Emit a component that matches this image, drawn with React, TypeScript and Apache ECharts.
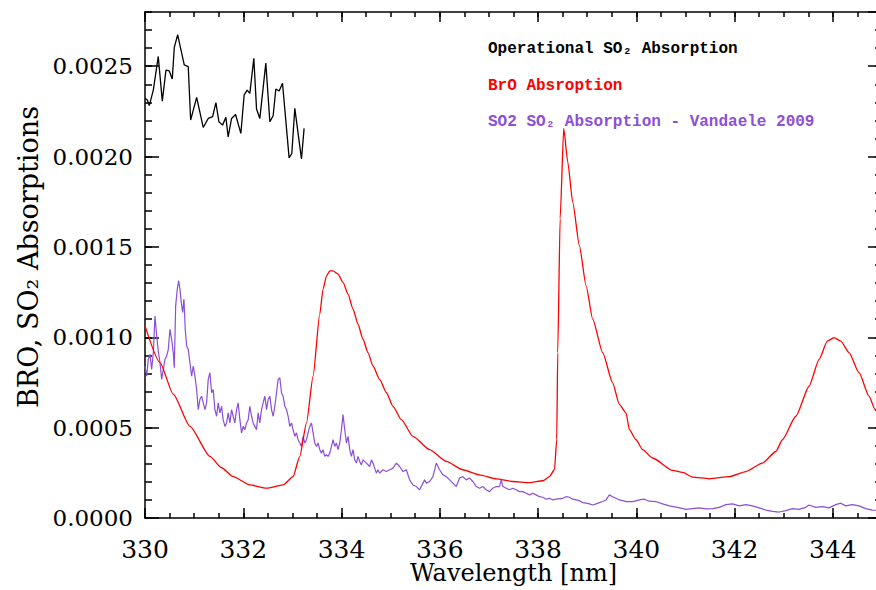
import React, { useEffect, useRef } from "react";
import * as echarts from "echarts";

// Axis ranges / ticks
const X_MIN = 330;
const X_MAX = 345;
const X_MAJOR = 2;
const X_MINOR = 0.5;
const Y_MIN = 0;
const Y_MAX = 0.0028;
const Y_MAJOR = 0.0005;
const Y_MINOR = 0.0001;

const legendLabels = [
  "Operational SO₂ Absorption",
  "BrO Absroption",
  "SO2 SO₂ Absorption - Vandaele 2009",
];
const xTitle = "Wavelength [nm]";
const yTitle = "BRO, SO₂ Absorptions";

// Operational SO2 absorption (black)
const operationalSO2: [number, number][] = [
  [330.0, 0.002322], [330.047, 0.002313], [330.087, 0.002282], [330.169, 0.002368],
  [330.27, 0.002554], [330.352, 0.002307], [330.427, 0.002479], [330.494, 0.002474],
  [330.555, 0.002429], [330.596, 0.002604], [330.665, 0.002674], [330.799, 0.002507],
  [330.88, 0.002498], [330.929, 0.002202], [331.051, 0.002328], [331.185, 0.002161],
  [331.287, 0.002211], [331.376, 0.002221], [331.443, 0.002298], [331.504, 0.002193],
  [331.579, 0.002174], [331.646, 0.002217], [331.693, 0.002109], [331.762, 0.002211],
  [331.843, 0.002233], [331.951, 0.002128], [332.018, 0.002341], [332.079, 0.002368],
  [332.134, 0.00235], [332.215, 0.002544], [332.27, 0.002263], [332.337, 0.002211],
  [332.459, 0.002517], [332.541, 0.002193], [332.608, 0.002226], [332.663, 0.002374],
  [332.73, 0.002363], [332.799, 0.002406], [332.933, 0.001993], [332.988, 0.002017],
  [333.049, 0.002267], [333.185, 0.001987], [333.238, 0.002156],
];

// BrO absorption (red)
const broAbsorption: [number, number][] = [
  [330.0, 0.001063], [330.305, 0.00086], [330.575, 0.000685], [330.915, 0.000507],
  [331.321, 0.000341], [331.558, 0.000278], [331.795, 0.000229], [332.134, 0.000183],
  [332.474, 0.000165], [332.811, 0.000183], [333.014, 0.000229], [333.15, 0.000341],
  [333.287, 0.000526], [333.421, 0.000785], [333.557, 0.001128], [333.624, 0.001267],
  [333.693, 0.001339], [333.76, 0.001367], [333.827, 0.001368], [333.929, 0.00135],
  [334.03, 0.001304], [334.132, 0.001239], [334.234, 0.001156], [334.335, 0.001072],
  [334.437, 0.000989], [334.539, 0.000915], [334.64, 0.000841], [334.776, 0.000767],
  [334.913, 0.000693], [335.047, 0.000618], [335.217, 0.000544], [335.453, 0.000452],
  [335.793, 0.000378], [336.132, 0.000313], [336.469, 0.000267], [336.809, 0.000239],
  [337.148, 0.000217], [337.486, 0.000202], [337.825, 0.000196], [338.096, 0.000206],
  [338.232, 0.000229], [338.333, 0.000267], [338.38, 0.000433], [338.4, 0.000915],
  [338.449, 0.001656], [338.522, 0.002156], [338.604, 0.001971], [338.705, 0.001748],
  [338.841, 0.001507], [338.978, 0.001285], [339.112, 0.0011], [339.315, 0.000915],
  [339.518, 0.000748], [339.654, 0.000629], [339.79, 0.000582], [339.858, 0.000489],
  [339.994, 0.000433], [340.128, 0.000378], [340.331, 0.000332], [340.738, 0.000263],
  [340.941, 0.000252], [341.144, 0.000226], [341.484, 0.000217], [341.89, 0.000229],
  [342.23, 0.000257], [342.567, 0.000304], [342.84, 0.000368], [342.973, 0.000433],
  [343.246, 0.000563], [343.516, 0.000729], [343.72, 0.000878], [343.888, 0.000979],
  [344.024, 0.000998], [344.161, 0.000979], [344.329, 0.000915], [344.533, 0.000804],
  [344.736, 0.000674], [344.858, 0.0006], [345.0, 0.000517],
];

// SO2 absorption - Vandaele 2009 (purple)
const vandaeleSO2: [number, number][] = [
  [330.0, 0.000841], [330.035, 0.000785], [330.067, 0.000878], [330.102, 0.000906],
  [330.136, 0.000822], [330.169, 0.000915], [330.203, 0.001118], [330.238, 0.001007],
  [330.27, 0.000924], [330.305, 0.000859], [330.339, 0.000767], [330.372, 0.000822],
  [330.407, 0.000878], [330.441, 0.000896], [330.474, 0.000933], [330.508, 0.001044],
  [330.543, 0.000989], [330.575, 0.000915], [330.596, 0.000832], [330.624, 0.001174],
  [330.657, 0.001267], [330.685, 0.001313], [330.711, 0.001267], [330.738, 0.001193],
  [330.766, 0.001137], [330.793, 0.001211], [330.819, 0.001044], [330.848, 0.000952],
  [330.88, 0.000933], [330.915, 0.000859], [330.949, 0.000785], [330.982, 0.000841],
  [331.016, 0.000785], [331.051, 0.000711], [331.083, 0.0006], [331.118, 0.000656],
  [331.152, 0.000674], [331.185, 0.000637], [331.22, 0.0006], [331.254, 0.000637],
  [331.287, 0.000767], [331.321, 0.000804], [331.356, 0.000693], [331.388, 0.000711],
  [331.423, 0.0006], [331.457, 0.000563], [331.49, 0.000637], [331.524, 0.000582],
  [331.559, 0.000618], [331.591, 0.000544], [331.626, 0.000507], [331.661, 0.000526],
  [331.693, 0.000582], [331.728, 0.000526], [331.762, 0.0006], [331.795, 0.000563],
  [331.829, 0.000526], [331.864, 0.0006], [331.896, 0.000637], [331.931, 0.000544],
  [331.965, 0.000471], [331.998, 0.000507], [332.033, 0.000489], [332.067, 0.000526],
  [332.1, 0.000544], [332.134, 0.000618], [332.169, 0.000563], [332.201, 0.000526],
  [332.236, 0.000507], [332.27, 0.000489], [332.303, 0.000582], [332.337, 0.000526],
  [332.372, 0.0006], [332.404, 0.000637], [332.439, 0.000674], [332.474, 0.0006],
  [332.506, 0.000656], [332.541, 0.000674], [332.575, 0.0006], [332.608, 0.000563],
  [332.642, 0.000618], [332.677, 0.000693], [332.709, 0.000767], [332.744, 0.000776],
  [332.778, 0.000693], [332.811, 0.000674], [332.846, 0.000618], [332.88, 0.0006],
  [332.913, 0.000563], [332.947, 0.000507], [332.982, 0.000526], [333.014, 0.000489],
  [333.049, 0.000452], [333.083, 0.000471], [333.116, 0.000433], [333.15, 0.000415],
  [333.185, 0.000396], [333.217, 0.000452], [333.252, 0.000415], [333.287, 0.000433],
  [333.319, 0.000471], [333.354, 0.000507], [333.388, 0.000526], [333.421, 0.000471],
  [333.455, 0.000415], [333.49, 0.000396], [333.522, 0.000415], [333.557, 0.000378],
  [333.591, 0.000359], [333.624, 0.000378], [333.659, 0.000341], [333.693, 0.00035],
  [333.726, 0.000341], [333.76, 0.000359], [333.795, 0.000396], [333.827, 0.000433],
  [333.862, 0.000396], [333.896, 0.000415], [333.929, 0.000378], [333.963, 0.000415],
  [333.998, 0.000489], [334.03, 0.000572], [334.065, 0.000489], [334.1, 0.000415],
  [334.132, 0.000452], [334.167, 0.000378], [334.201, 0.000341], [334.234, 0.000378],
  [334.268, 0.000322], [334.303, 0.000304], [334.335, 0.000341], [334.37, 0.000313],
  [334.404, 0.000294], [334.437, 0.000322], [334.506, 0.000304], [334.573, 0.000285],
  [334.608, 0.000322], [334.64, 0.000304], [334.675, 0.000276], [334.709, 0.000248],
  [334.742, 0.000267], [334.776, 0.000248], [334.843, 0.000267], [334.913, 0.000257],
  [334.98, 0.000267], [335.047, 0.000276], [335.116, 0.000304], [335.183, 0.000285],
  [335.25, 0.000257], [335.319, 0.000267], [335.386, 0.000211], [335.453, 0.000183],
  [335.522, 0.000174], [335.589, 0.000156], [335.657, 0.000193], [335.691, 0.000211],
  [335.726, 0.000193], [335.793, 0.000202], [335.86, 0.000229], [335.929, 0.000304],
  [335.996, 0.000267], [336.063, 0.000239], [336.132, 0.000229], [336.199, 0.000211],
  [336.266, 0.000193], [336.335, 0.000174], [336.402, 0.000221], [336.469, 0.000229],
  [336.539, 0.000211], [336.606, 0.000221], [336.673, 0.000202], [336.742, 0.000174],
  [336.809, 0.000165], [336.876, 0.000174], [336.945, 0.000156], [337.012, 0.000146],
  [337.079, 0.000165], [337.148, 0.000174], [337.215, 0.000174], [337.25, 0.000211],
  [337.283, 0.000174], [337.352, 0.000165], [337.419, 0.000156], [337.486, 0.000165],
  [337.555, 0.000156], [337.622, 0.000146], [337.689, 0.000146], [337.758, 0.000137],
  [337.825, 0.000128], [337.892, 0.000137], [337.961, 0.000128], [338.028, 0.000118],
  [338.096, 0.000115], [338.165, 0.000104], [338.232, 0.000109], [338.299, 0.0001],
  [338.368, 0.000104], [338.502, 0.000109], [338.571, 0.000118], [338.638, 0.000115],
  [338.705, 0.000104], [338.774, 0.0001], [338.841, 0.000096], [338.909, 0.000085],
  [338.978, 0.000082], [339.045, 0.000078], [339.112, 0.000072], [339.181, 0.000078],
  [339.248, 0.000085], [339.315, 0.000091], [339.384, 0.0001], [339.451, 0.000128],
  [339.518, 0.000118], [339.587, 0.000109], [339.654, 0.0001], [339.722, 0.000096],
  [339.791, 0.000091], [339.925, 0.000091], [340.061, 0.0001], [340.163, 0.000104],
  [340.264, 0.000093], [340.4, 0.000091], [340.535, 0.000078], [340.671, 0.000067],
  [340.839, 0.000059], [341.01, 0.000048], [341.144, 0.000052], [341.28, 0.000056],
  [341.417, 0.00005], [341.551, 0.000052], [341.687, 0.000059], [341.823, 0.000074],
  [341.957, 0.000078], [342.093, 0.000067], [342.23, 0.000074], [342.364, 0.000067],
  [342.5, 0.000056], [342.636, 0.000044], [342.77, 0.000037], [342.907, 0.000033],
  [343.043, 0.000041], [343.177, 0.000052], [343.313, 0.000048], [343.449, 0.000059],
  [343.516, 0.000072], [343.652, 0.000059], [343.787, 0.000063], [343.923, 0.000056],
  [344.059, 0.000074], [344.161, 0.000082], [344.262, 0.000067], [344.396, 0.000074],
  [344.533, 0.000067], [344.669, 0.000052], [344.803, 0.000044], [345.0, 0.000041],
];

const BLACK = "#000000";
const RED = "#ff0000";
const PURPLE = "#8b4fd8";
const SERIF = "'DejaVu Serif', serif";
const MONO = "'Liberation Mono', 'DejaVu Sans Mono', monospace";

export default function App() {
  const ref = useRef<HTMLDivElement>(null);

  useEffect(() => {
    if (!ref.current) return;
    const chart = echarts.init(ref.current, undefined, { renderer: "svg" });

    const lineStyle = { color: BLACK, width: 1.5 };
    const tickStyle = { color: BLACK, width: 1.5 };

    const xBase = {
      type: "value" as const,
      min: X_MIN,
      max: X_MAX,
      splitLine: { show: false },
      gridIndex: 0,
    };
    const yBase = {
      type: "value" as const,
      min: Y_MIN,
      max: Y_MAX,
      splitLine: { show: false },
      gridIndex: 0,
    };

    const legendStyle = (text: string, fill: string) => ({
      text,
      fill,
      font: `bold 16px ${MONO}`,
      textAlign: "left",
      textVerticalAlign: "middle",
    });

    const option: any = {
      animation: false,
      grid: {
        left: 145,
        right: -6,
        top: 12,
        bottom: 72,
        containLabel: false,
        outerBoundsMode: "none",
      },
      xAxis: [
        {
          ...xBase,
          position: "bottom",
          interval: X_MAJOR,
          axisLine: { show: true, onZero: false, lineStyle },
          axisTick: { show: true, inside: true, length: 10, lineStyle: tickStyle },
          axisLabel: {
            show: true,
            margin: 20,
            color: BLACK,
            fontFamily: SERIF,
            fontSize: 25,
            lineHeight: 22,
            showMaxLabel: false,
            formatter: (v: number) => String(v),
          },
          name: xTitle,
          nameLocation: "middle",
          nameGap: 44,
          nameMoveOverlap: false,
          nameTextStyle: { color: BLACK, fontFamily: SERIF, fontSize: 24, lineHeight: 22 },
        },
        {
          ...xBase,
          position: "bottom",
          interval: X_MINOR,
          axisLine: { show: false, onZero: false },
          axisTick: { show: true, inside: true, length: 5, lineStyle: tickStyle },
          axisLabel: { show: false },
        },
        {
          ...xBase,
          position: "top",
          interval: X_MAJOR,
          axisLine: { show: true, onZero: false, lineStyle },
          axisTick: { show: true, inside: true, length: 10, lineStyle: tickStyle },
          axisLabel: { show: false },
        },
        {
          ...xBase,
          position: "top",
          interval: X_MINOR,
          axisLine: { show: false, onZero: false },
          axisTick: { show: true, inside: true, length: 5, lineStyle: tickStyle },
          axisLabel: { show: false },
        },
      ],
      yAxis: [
        {
          ...yBase,
          position: "left",
          interval: Y_MAJOR,
          axisLine: { show: true, onZero: false, lineStyle },
          axisTick: { show: true, inside: true, length: 14, lineStyle: tickStyle },
          axisLabel: {
            show: true,
            margin: 12,
            color: BLACK,
            fontFamily: SERIF,
            fontSize: 23,
            showMaxLabel: false,
            formatter: (v: number) => v.toFixed(4),
          },
          name: yTitle,
          nameLocation: "middle",
          nameGap: 103,
          nameTextStyle: {
            color: BLACK,
            fontFamily: SERIF,
            fontSize: 27,
            padding: [0, 0, 0, 16],
          },
        },
        {
          ...yBase,
          position: "left",
          interval: Y_MINOR,
          axisLine: { show: false, onZero: false },
          axisTick: { show: true, inside: true, length: 7, lineStyle: tickStyle },
          axisLabel: { show: false },
        },
        {
          ...yBase,
          position: "right",
          interval: Y_MAJOR,
          axisLine: { show: true, onZero: false, lineStyle },
          axisTick: { show: true, inside: true, length: 14, lineStyle: tickStyle },
          axisLabel: { show: false },
        },
        {
          ...yBase,
          position: "right",
          interval: Y_MINOR,
          axisLine: { show: false, onZero: false },
          axisTick: { show: true, inside: true, length: 7, lineStyle: tickStyle },
          axisLabel: { show: false },
        },
      ],
      series: [
        {
          name: legendLabels[2],
          type: "line",
          xAxisIndex: 0,
          yAxisIndex: 0,
          data: vandaeleSO2,
          showSymbol: false,
          symbol: "none",
          lineStyle: { color: PURPLE, width: 1.2 },
          silent: true,
        },
        {
          name: legendLabels[1],
          type: "line",
          xAxisIndex: 0,
          yAxisIndex: 0,
          data: broAbsorption,
          showSymbol: false,
          symbol: "none",
          smooth: 0.2,
          smoothMonotone: "x",
          lineStyle: { color: RED, width: 1.3 },
          silent: true,
        },
        {
          name: legendLabels[0],
          type: "line",
          xAxisIndex: 0,
          yAxisIndex: 0,
          data: operationalSO2,
          showSymbol: false,
          symbol: "none",
          lineStyle: { color: BLACK, width: 1.3 },
          silent: true,
        },
      ],
      graphic: [
        { type: "text", x: 488, y: 49, style: legendStyle(legendLabels[0], BLACK) },
        { type: "text", x: 488, y: 86, style: legendStyle(legendLabels[1], RED) },
        { type: "text", x: 488, y: 122, style: legendStyle(legendLabels[2], PURPLE) },
      ],
    };

    chart.setOption(option);
    return () => chart.dispose();
  }, []);

  return (
    <div
      ref={ref}
      style={{ position: "fixed", left: 0, top: 0, width: 876, height: 590, background: "#fff" }}
    />
  );
}
